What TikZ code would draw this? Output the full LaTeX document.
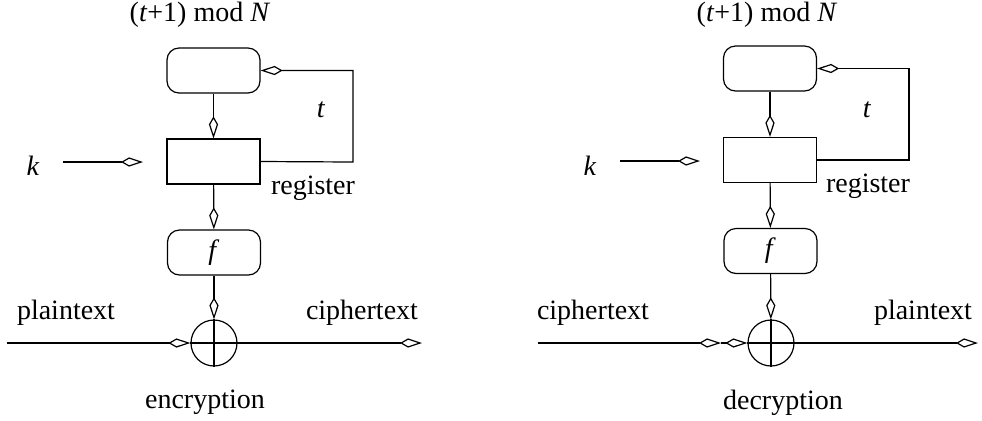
\documentclass[tikz,border=0pt]{standalone}
\usepackage{fontspec}
\setmainfont{Liberation Serif}
\usetikzlibrary{arrows.meta}
\tikzset{
  every node/.style={font=\fontsize{14}{16}\selectfont},
  lw/.style={line width=0.6pt},
  arr/.style={lw,-{Kite[open,length=11pt,width=4.6pt,inset=4pt,line width=0.6pt]}},
  rbox/.style={lw,draw,rounded corners=6pt,minimum width=46.5pt,minimum height=22.5pt,inner sep=0pt},
  sbox/.style={lw,draw,minimum width=46.5pt,minimum height=22.5pt,inner sep=0pt},
  xorc/.style={lw,draw,circle,minimum size=23pt,inner sep=0pt},
  lbl/.style={inner sep=0pt}
}
\begin{document}
\begin{tikzpicture}[x=0.5pt,y=-0.5pt]
\useasboundingbox (0,0) rectangle (982,420);
% ---------- encryption ----------
\node[lbl] (Lmod) at (200,15) {(\textit{t}+1) mod \textit{N}};
\node[rbox] (Ltop) at (213.5,70.5) {};
\node[sbox] (Lreg) at (213.5,161.5) {};
\node[rbox] (Lf) at (214,252.5) {\textit{f}};
\node[xorc] (Lx) at (214,343) {};
\draw[lw] (Lx.north) -- (Lx.south) (Lx.west) -- (Lx.east);
\node[lbl] (Lk) at (33,166) {\textit{k}};
\coordinate (Lks) at (63,162);
\coordinate (Lke) at (143,162);
\draw[arr] (Lks) -- (Lke);
\draw[arr] (Ltop) -- (Lreg);
\draw[arr] (Lreg) -- (Lf);
\draw[arr] (Lf) -- (Lx);
\coordinate (Lfb1) at (353,162);
\coordinate (Lfb2) at (353,70.5);
\draw[arr] (Lreg.east) -- (Lfb1) -- (Lfb2) -- (Ltop.east);
\node[lbl] (Lt) at (321,110) {\textit{t}};
\node[lbl] (Lrl) at (313,188) {register};
\coordinate (Lin) at (7,343);
\coordinate (Lout) at (422,343);
\draw[arr] (Lin) -- (Lx.west);
\draw[arr] (Lx.east) -- (Lout);
\node[lbl] (Lpt) at (66,313) {plaintext};
\node[lbl] (Lct) at (362,313) {ciphertext};
\node[lbl] (Lenc) at (205,402) {encryption};
% ---------- decryption ----------
\node[lbl] (Rmod) at (767,15) {(\textit{t}+1) mod \textit{N}};
\node[rbox] (Rtop) at (770,68.5) {};
\node[sbox] (Rreg) at (770,160) {};
\node[rbox] (Rf) at (770.5,251) {\textit{f}};
\node[xorc] (Rx) at (771,343) {};
\draw[lw] (Rx.north) -- (Rx.south) (Rx.west) -- (Rx.east);
\node[lbl] (Rk) at (590,166) {\textit{k}};
\coordinate (Rks) at (620,161);
\coordinate (Rke) at (700,161);
\draw[arr] (Rks) -- (Rke);
\draw[arr] (Rtop) -- (Rreg);
\draw[arr] (Rreg) -- (Rf);
\draw[arr] (Rf) -- (Rx);
\coordinate (Rfb1) at (909,160);
\coordinate (Rfb2) at (909,68.5);
\draw[arr] (Rreg.east) -- (Rfb1) -- (Rfb2) -- (Rtop.east);
\node[lbl] (Rt) at (867,110) {\textit{t}};
\node[lbl] (Rrl) at (868,186) {register};
\coordinate (Rin) at (538,343);
\coordinate (Rmid) at (721,343);
\coordinate (Rout) at (978,343);
\draw[arr] (Rin) -- (Rmid);
\draw[arr] (Rmid) -- (Rx.west);
\draw[arr] (Rx.east) -- (Rout);
\node[lbl] (Rct) at (593,313) {ciphertext};
\node[lbl] (Rpt) at (923,313) {plaintext};
\node[lbl] (Rdec) at (783,403) {decryption};
\end{tikzpicture}
\end{document}
